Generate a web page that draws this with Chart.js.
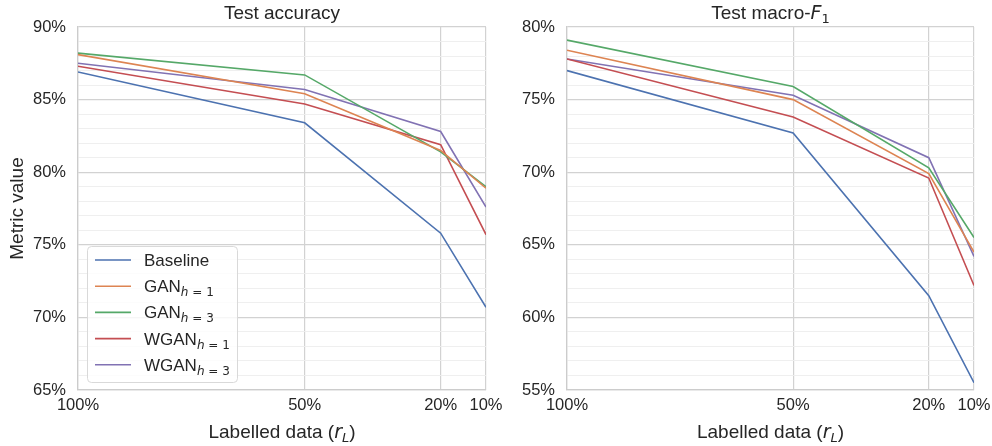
<!DOCTYPE html>
<html>
<head>
<meta charset="utf-8">
<script src="https://cdn.jsdelivr.net/npm/chart.js@4.4.1/dist/chart.umd.min.js"></script>
<style>
  html, body { margin: 0; padding: 0; background: #ffffff; }
  body { position: relative; width: 992px; height: 446px; overflow: hidden; }
  canvas { position: absolute; top: 0; }
</style>
</head>
<body>
<canvas id="acc_chart" width="520" height="446" style="left:0px"></canvas>
<canvas id="f1_chart" width="512" height="446" style="left:490px"></canvas>
<script>
// labelled data fraction (x axis)
const labelledData = [100, 50, 20, 10];
const xTickValues = [100, 50, 20, 10];

const seriesNames = ["Baseline", "GAN", "GAN", "WGAN", "WGAN"];
const seriesSubs = ["", "h = 1", "h = 3", "h = 1", "h = 3"];
const seriesColors = ["#4c72b0", "#dd8452", "#55a868", "#c44e52", "#8172b3"];

// test accuracy (%)
const accBaseline = [86.9, 83.4, 75.8, 70.7];
const accGanH1 = [88.1, 85.4, 81.5, 78.9];
const accGanH3 = [88.2, 86.7, 81.4, 79.0];
const accWganH1 = [87.3, 84.7, 81.9, 75.7];
const accWganH3 = [87.5, 85.7, 82.8, 77.6];

// test macro-F1 (%)
const f1Baseline = [77.0, 72.7, 61.5, 55.5];
const f1GanH1 = [78.4, 75.0, 69.9, 64.5];
const f1GanH3 = [79.1, 75.9, 70.3, 65.5];
const f1WganH1 = [77.8, 73.8, 69.6, 62.2];
const f1WganH3 = [77.8, 75.3, 71.0, 64.2];

const accRange = [65, 90];
const f1Range = [55, 80];

const SANS = "'Liberation Sans', Arial, sans-serif";
const MATH = "'DejaVu Sans', sans-serif";
const TEXT_COLOR = "#262626";

function fontOf(p) {
    return (p.italic ? "italic " : "") + p.size + "px " + (p.math ? MATH : SANS);
}

function drawRich(ctx, parts, x, y, align) {
    let total = 0;
    parts.forEach(p => {
        ctx.font = fontOf(p);
        p.w = ctx.measureText(p.t).width;
        total += p.w;
    });
    let cx = align === "center" ? x - total / 2 : x;
    ctx.textAlign = "left";
    ctx.textBaseline = "alphabetic";
    parts.forEach(p => {
        ctx.font = fontOf(p);
        ctx.fillText(p.t, cx, y + (p.dy || 0));
        cx += p.w;
    });
}

function subParts(sub) {
    // "h = 1" -> italic h, upright rest, small and lowered
    if (!sub) {
        return [];
    }
    return [
        { t: sub.charAt(0), size: 12, italic: true, math: true, dy: 4 },
        { t: sub.slice(1), size: 12, math: true, dy: 4 },
    ];
}

function makeTextPlugin(spec) {
    return {
        id: "richText_" + spec.key,
        afterDraw(chart) {
            const ctx = chart.ctx;
            const area = chart.chartArea;
            const midX = (area.left + area.right) / 2;
            ctx.save();
            ctx.fillStyle = TEXT_COLOR;

            drawRich(ctx, spec.title, midX, 19, "center");

            drawRich(ctx, [
                { t: "Labelled data (", size: 19 },
                { t: "r", size: 19, italic: true, math: true },
                { t: "L", size: 13, italic: true, math: true, dy: 4 },
                { t: ")", size: 19 },
            ], midX, 438, "center");

            if (spec.yTitle) {
                ctx.save();
                ctx.translate(23, (area.top + area.bottom) / 2);
                ctx.rotate(-Math.PI / 2);
                drawRich(ctx, [{ t: spec.yTitle, size: 19 }], 0, 0, "center");
                ctx.restore();
            }

            if (spec.legend) {
                const bx = 87, by = 246, bw = 150, bh = 136;
                ctx.beginPath();
                ctx.roundRect(bx + 0.5, by + 0.5, bw, bh, 4);
                ctx.fillStyle = "rgba(255,255,255,0.8)";
                ctx.fill();
                ctx.strokeStyle = "#d9d9d9";
                ctx.lineWidth = 1;
                ctx.stroke();

                chart.data.datasets.forEach((ds, i) => {
                    const ly = 260 + i * 26.2;
                    ctx.beginPath();
                    ctx.moveTo(95, ly);
                    ctx.lineTo(131, ly);
                    ctx.strokeStyle = ds.borderColor;
                    ctx.lineWidth = 1.6;
                    ctx.stroke();
                    ctx.fillStyle = TEXT_COLOR;
                    drawRich(ctx, [{ t: seriesNames[i], size: 17 }]
                        .concat(subParts(seriesSubs[i])), 144, ly + 6, "left");
                });
            }
            ctx.restore();
        }
    };
}

function buildDatasets(seriesList) {
    return seriesList.map((values, i) => ({
        label: seriesNames[i] + (seriesSubs[i] ? " " + seriesSubs[i] : ""),
        data: values.map((v, j) => ({ x: labelledData[j], y: v })),
        borderColor: seriesColors[i],
        backgroundColor: seriesColors[i],
        borderWidth: 1.6,
        pointRadius: 0,
        tension: 0,
        fill: false,
    }));
}

function buildChart(canvasId, seriesList, yRange, yWidth, padRight, spec) {
    const canvas = document.getElementById(canvasId);

    return new Chart(canvas, {
        type: "line",
        data: {
            datasets: buildDatasets(seriesList),
        },
        options: {
            responsive: false,
            animation: false,
            devicePixelRatio: 1,
            layout: {
                padding: { left: 0, right: padRight, top: 27, bottom: 0 },
            },
            plugins: {
                legend: { display: false },
                title: { display: false },
                tooltip: { enabled: false },
            },
            scales: {
                x: {
                    type: "linear",
                    reverse: true,
                    min: 10,
                    max: 100,
                    afterBuildTicks(scale) {
                        scale.ticks = xTickValues.map(v => ({ value: v }));
                    },
                    afterFit(scale) {
                        scale.height = 56;
                    },
                    ticks: {
                        autoSkip: false,
                        maxRotation: 0,
                        padding: 6,
                        color: TEXT_COLOR,
                        font: { family: SANS, size: 16.5 },
                        callback: v => v + "%",
                    },
                    grid: {
                        color: "#d2d2d2",
                        lineWidth: 1.2,
                        drawTicks: false,
                    },
                    border: { color: "#cccccc", width: 1.25 },
                },
                y: {
                    min: yRange[0],
                    max: yRange[1],
                    afterFit(scale) {
                        scale.width = yWidth;
                    },
                    ticks: {
                        stepSize: 1,
                        autoSkip: false,
                        padding: 12,
                        color: TEXT_COLOR,
                        font: { family: SANS, size: 16.5 },
                        callback: v => (v % 5 === 0 ? v + "%" : ""),
                    },
                    grid: {
                        color: c => (c.tick && c.tick.value % 5 === 0 ? "#d2d2d2" : "#ededed"),
                        lineWidth: c => (c.tick && c.tick.value % 5 === 0 ? 1.2 : 0.9),
                        drawTicks: false,
                    },
                    border: { color: "#cccccc", width: 1.25 },
                },
            },
        },
        plugins: [makeTextPlugin(spec)],
    });
}

buildChart(
    "acc_chart",
    [accBaseline, accGanH1, accGanH3, accWganH1, accWganH3],
    accRange, 78, 34,
    {
        key: "acc",
        title: [{ t: "Test accuracy", size: 19 }],
        yTitle: "Metric value",
        legend: true,
    }
);

buildChart(
    "f1_chart",
    [f1Baseline, f1GanH1, f1GanH3, f1WganH1, f1WganH3],
    f1Range, 77, 28,
    {
        key: "f1",
        title: [
            { t: "Test macro-", size: 19 },
            { t: "F", size: 19, italic: true, math: true },
            { t: "1", size: 13, math: true, dy: 4 },
        ],
        yTitle: null,
        legend: false,
    }
);
</script>
</body>
</html>
